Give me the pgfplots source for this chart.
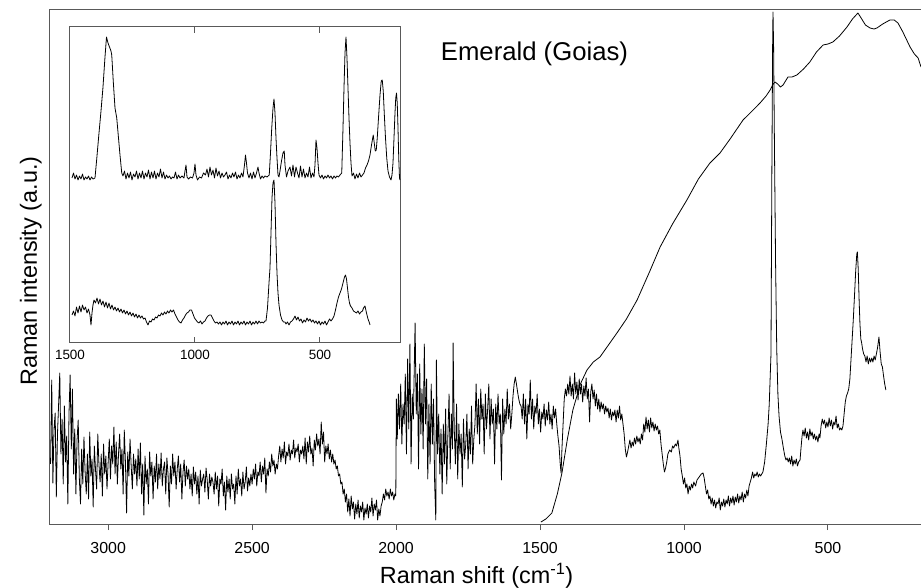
\documentclass[border=0pt]{standalone}
\usepackage{fontspec}
\setmainfont{Liberation Sans}
\usepackage{pgfplots}
\pgfplotsset{compat=1.18}
\definecolor{axgray}{gray}{0.35}
\pgfplotsset{spec/.style={black, line width=0.8bp, line join=round, mark=none}}
\begin{document}
\begin{tikzpicture}
\begin{axis}[
  at={(50bp,64bp)}, anchor=south west,
  scale only axis, width=871bp, height=514bp,
  xmin=177, xmax=3202, ymin=0, ymax=514,
  x dir=reverse,
  axis line style={axgray, line width=1bp},
  xtick={500,1000,1500,2000,2500,3000},
  ytick=\empty,
  tick align=outside,
  xtick pos=bottom,
  major tick length=6bp,
  every tick/.style={axgray, line width=1bp},
  xticklabel style={font=\fontsize{16}{19}\selectfont, anchor=base, yshift=-23.5bp, inner sep=0pt},
  xlabel={Raman shift (cm\textsuperscript{-1})},
  xlabel style={font=\fontsize{23.5}{28}\selectfont, at={(axis description cs:0.4897,-0.1155)}, anchor=base, inner sep=0pt},
  ylabel={Raman intensity (a.u.)},
  ylabel style={font=\fontsize{23.5}{28}\selectfont, at={(axis description cs:-0.0092,0.492)}, anchor=south, inner sep=0pt},
  /pgf/number format/1000 sep={},
  /pgf/number format/assume math mode=true,
]
% noisy spectrum (3200-300)
\addplot[spec] coordinates {
(3200,60)(3196,144)(3192,41)(3188,95)(3184,111)(3180,27)(3176,90)(3172,120)(3168,151)(3164,70)(3160,105)(3156,40)(3152,118)(3148,62)(3144,88)(3140,20)(3136,110)(3132,149)(3128,75)(3124,135)(3120,50)(3116,95)
(3112,30)(3108,84)(3104,104)(3100,45)(3096,20)
(3092,75)(3088,40)(3084,87)(3080,52)(3076,30)(3072,70)(3068,25)(3064,92)(3060,48)(3056,65)(3052,17)(3048,78)(3044,55)(3040,35)(3036,90)(3032,60)(3028,42)(3024,70)(3020,28)(3016,80)(3012,50)(3008,68)(3004,35)
(3000,62)(2996,85)(2992,45)(2988,78)(2984,60)(2980,97)(2976,50)(2972,82)(2968,40)(2964,70)(2960,90)(2956,55)(2952,75)(2948,30)(2944,94)(2940,62)(2936,11)(2932,72)(2928,48)(2924,85)(2920,58)(2916,35)(2912,70)(2908,50)
(2904,65)(2900,38)(2896,75)(2892,45)(2888,81)(2884,30)(2880,60)(2876,9)(2872,68)(2868,40)(2864,55)(2860,20)(2856,72)(2852,48)(2848,62)(2844,25)(2840,58)(2836,42)(2832,70)(2828,35)
(2824,60)(2820,45)(2816,71)(2812,38)(2808,55)(2804,62)(2800,30)(2796,66)(2792,50)(2788,17)(2784,58)(2780,40)(2776,70)(2772,48)(2768,62)(2764,35)(2760,55)(2756,68)(2752,42)(2748,60)(2744,25)(2740,52)(2736,64)(2732,38)(2728,58)(2724,45)
(2720,55)(2716,35)(2712,50)(2708,28)(2704,57)(2700,40)(2696,52)(2692,30)(2688,48)(2684,20)(2680,54)(2676,38)(2672,45)(2668,50)(2664,32)(2660,56)(2656,44)(2652,25)(2648,50)(2644,38)(2640,47)(2636,42)(2632,30)(2628,52)(2624,35)(2620,48)(2616,18)(2612,45)(2608,40)(2604,55)(2600,28)(2596,42)(2592,14)(2588,48)(2584,32)
(2580,45)(2576,25)(2572,50)(2568,35)(2564,40)(2560,20)(2556,48)(2552,30)(2548,55)(2544,38)(2540,45)(2536,28)(2532,52)(2528,35)(2524,42)(2520,57)(2516,33)(2512,46)(2508,38)(2504,50)
(2500,40)(2496,55)(2492,45)(2488,60)(2484,38)(2480,52)(2476,48)(2472,62)(2468,42)(2464,58)(2460,50)(2456,66)(2452,31)(2448,55)(2444,48)(2440,62)(2436,52)(2432,70)(2428,58)(2424,64)(2420,50)(2416,60)(2412,55)
(2408,68)(2404,78)(2400,62)(2396,75)(2392,66)(2388,82)(2384,60)(2380,72)(2376,68)(2372,80)(2368,64)(2364,74)(2360,70)(2356,84)(2352,66)(2348,76)(2344,72)(2340,80)(2336,62)(2332,74)(2328,70)
(2324,78)(2320,65)(2316,86)(2312,60)(2308,82)(2304,72)(2300,88)(2296,70)(2292,76)(2288,58)(2284,84)(2280,74)(2276,90)(2272,78)(2268,85)(2264,70)(2260,102)(2256,80)
(2252,92)(2248,62)(2244,78)(2240,70)(2236,80)(2232,65)(2228,74)(2224,62)(2220,70)(2216,60)
(2212,64)(2208,55)(2204,58)(2200,48)(2196,50)(2192,40)(2188,42)(2184,30)(2180,35)(2176,22)
(2172,30)(2168,12)(2164,25)(2160,8)(2156,28)(2152,15)(2148,22)(2144,5)(2140,20)(2136,10)(2132,24)(2128,6)(2124,18)(2120,12)(2116,22)(2112,4)(2108,16)(2104,10)(2100,20)(2096,6)(2092,18)(2088,12)(2084,26)(2080,8)(2076,20)(2072,14)(2068,24)(2064,4)(2060,15)(2056,8)(2052,18)
(2048,22)(2044,30)(2040,24)(2036,35)(2032,28)(2028,32)(2024,25)(2020,35)(2016,28)(2012,32)(2008,24)(2004,30)
(2001,28)(1999,125)
(1996,85)(1992,130)(1988,95)(1984,140)(1980,80)(1976,120)(1972,100)
(1968,150)(1964,70)(1960,165)(1956,95)(1952,180)(1948,60)(1944,130)(1940,105)(1936,170)(1934,201)(1930,110)(1926,150)(1922,55)(1918,160)(1914,90)(1910,135)(1906,75)(1902,180)(1898,100)(1894,145)(1890,45)
(1886,120)(1882,60)(1878,140)(1874,80)(1870,125)(1866,40)(1862,4)(1860,164)(1856,70)(1852,110)(1848,50)(1844,95)(1840,30)
(1836,100)(1832,60)(1828,115)(1824,40)(1820,90)(1816,130)(1812,55)(1808,110)(1804,75)(1802,181)(1798,95)(1794,60)(1790,120)(1786,45)(1782,100)(1778,70)(1774,90)(1770,37)(1766,105)(1762,65)(1758,80)(1754,110)(1750,55)(1746,95)(1742,70)(1738,118)(1734,60)(1730,85)
(1726,100)(1722,140)(1718,90)(1714,125)(1710,80)(1706,135)(1702,105)(1698,120)(1694,70)(1690,130)(1686,95)(1682,115)(1678,140)(1674,85)(1670,125)(1666,100)(1662,115)(1658,60)(1654,120)(1650,95)(1646,130)(1642,100)(1638,110)(1634,44)(1630,125)(1626,90)(1622,115)(1618,100)(1614,135)(1610,105)(1606,120)(1602,95)
(1598,110)(1594,128)(1590,140)(1586,147)(1582,140)(1578,132)(1574,125)(1570,120)(1566,118)
(1562,105)(1558,130)(1554,100)(1550,125)(1546,85)(1542,120)(1538,110)(1534,144)(1530,105)(1526,125)(1522,95)(1518,118)(1514,110)(1510,130)
(1506,100)(1502,115)(1498,92)(1494,112)(1490,105)(1486,120)(1482,98)(1478,114)(1474,104)(1470,122)(1466,100)(1462,110)(1458,95)(1454,118)(1450,106)(1446,115)(1442,100)(1438,88)
(1434,78)(1430,60)(1427,51)(1424,75)
(1420,100)(1416,125)(1412,135)(1408,128)(1404,140)
(1400,130)(1396,148)(1392,128)(1388,140)(1384,125)(1380,151)(1376,130)(1372,142)(1368,124)(1364,145)(1360,130)(1356,140)(1352,122)(1348,138)(1344,128)(1340,146)(1336,125)(1332,135)(1328,102)(1324,132)(1320,140)
(1316,125)(1312,134)(1308,118)(1304,130)(1300,115)(1296,125)(1292,112)(1288,122)(1284,115)(1280,120)(1276,110)(1272,118)(1268,112)(1264,116)(1260,106)(1256,115)(1252,104)(1248,112)(1244,108)(1240,114)(1236,102)(1232,114)(1228,106)(1224,118)(1220,104)(1216,110)(1212,100)
(1208,90)(1204,75)(1200,67)(1196,72)
(1192,78)(1188,84)(1184,76)(1180,82)(1176,78)(1172,86)(1168,80)(1164,88)(1160,82)(1156,86)(1152,80)(1148,90)(1144,84)
(1140,100)(1136,92)(1132,107)(1128,95)(1124,104)(1120,92)(1116,106)(1112,96)(1108,102)(1104,93)(1100,100)(1096,94)(1092,98)(1088,90)(1084,94)
(1080,80)(1076,70)(1072,60)(1068,52)(1064,56)
(1060,62)(1056,70)(1050,74)(1044,72)(1040,78)(1036,76)(1030,80)(1026,78)(1021,84)(1018,76)
(1014,68)(1010,55)(1006,48)(1002,40)(998,46)(994,36)(990,40)(986,30)(982,38)(978,34)
(974,40)(970,36)(966,42)(960,38)(955,44)(950,46)(945,48)(940,50)(934,51)
(930,46)(926,38)(922,30)(918,34)(914,25)(910,28)
(906,20)(902,26)(898,18)(894,24)(890,16)(886,22)(882,20)(878,26)(874,14)(870,22)(866,18)(862,25)(858,17)(854,24)(850,20)(846,28)(842,18)(838,26)(834,21)(830,28)(826,19)(822,27)(818,22)(814,30)(810,21)(806,28)(802,24)(798,32)(794,22)(790,30)(786,26)(782,34)(778,28)(774,38)
(770,42)(766,46)(762,52)(758,46)(754,50)(750,48)(746,52)(742,47)(738,50)(734,48)(730,50)(726,52)
(720,62)(714,80)(708,100)(704,120)(701,145)(698,170)(695,350)(692,490)(691,512)(689,480)(686,380)(682,260)(678,175)(674,130)(670,108)(665,92)(660,85)(655,76)(650,68)(646,64)(642,66)
(638,62)(634,66)(630,60)(626,68)(622,58)(618,64)(614,60)(610,65)(606,58)(602,62)(597,64)
(594,75)(590,88)(587,94)
(583,88)(579,96)(575,86)(571,92)(567,84)(563,95)(559,88)(555,92)(551,85)(547,90)(543,84)(539,88)(535,82)(531,90)(528,86)
(524,98)(520,105)(516,100)(512,104)(508,96)(504,102)(500,97)(496,106)(492,98)(488,104)(484,95)(480,102)(476,99)(472,108)(468,96)(464,100)(460,94)
(456,96)(452,94)(448,98)
(444,110)(440,122)(436,128)(432,131)(428,135)(424,145)(420,165)(416,185)(412,205)(408,228)(404,252)(400,270)(398,272)(395,255)(392,225)(389,200)(386,185)(383,181)(380,175)
(376,170)(372,168)(368,162)(364,168)(360,160)(356,166)(352,162)(348,166)(344,162)(340,168)(336,164)(332,170)
(328,176)(323,187)(319,172)(315,160)(311,157)(307,148)(303,140)(299,134)
};
% fluorescence background curve
\addplot[spec] coordinates {
(1497,2)(1480,5)(1459,11)(1440,30)(1424,51)(1405,85)(1386,114)(1360,140)(1337,154)(1315,162)(1292,167)(1260,180)(1233,191)(1200,205)(1163,224)(1120,252)(1083,277)(1040,300)(990,324)(950,345)(910,361)(875,371)(840,385)(795,404)(760,414)(736,421)(715,428)(701,434)(690,440)(684,442)(675,440)(665,437)(656,439)(639,447)(625,447)(608,449)(585,455)(563,462)(540,472)(517,479)(500,480)(483,482)(460,488)(434,497)(415,505)(396,511)(385,506)(370,499)(354,496)(340,495)(330,496)(310,500)(285,504)(270,504)(257,501)(240,492)(225,483)(215,477)(200,470)(187,466)(177,457)
};
\node[anchor=base west, font=\fontsize{25.8}{30}\selectfont, inner sep=0pt] at (rel axis cs:0.4486,0.9008) {Emerald (Goias)};
\end{axis}
% inset
\begin{axis}[
  at={(70bp,245bp)}, anchor=south west,
  scale only axis, width=331bp, height=316bp,
  xmin=176, xmax=1500, ymin=0, ymax=316,
  x dir=reverse,
  axis background/.style={fill=white},
  axis line style={axgray, line width=1bp},
  xtick={500,1000,1500},
  ytick=\empty,
  tick align=inside,
  xtick pos=both,
  major tick length=6bp,
  every tick/.style={axgray, line width=1bp},
  xticklabel style={font=\fontsize{13.5}{16}\selectfont, anchor=base, yshift=-17bp, inner sep=0pt},
  /pgf/number format/1000 sep={},
  /pgf/number format/assume math mode=true,
]
\addplot[spec] coordinates {
(1492,165)(1486,170)(1480,164)(1474,168)(1468,163)(1462,167)(1456,164)(1450,169)(1444,163)(1438,166)(1432,164)(1426,167)(1420,163)(1414,166)(1408,164)
(1400,165)(1392,187)(1384,210)(1376,232)(1368,256)(1360,286)(1354,306)(1348,300)(1342,296)(1336,292)(1333,288)(1327,262)(1320,235)(1313,225)(1306,205)(1300,188)(1293,170)(1288,167)
(1282,172)(1276,164)(1270,170)(1264,165)(1258,171)(1252,163)(1246,169)(1240,166)(1234,172)(1228,164)(1222,170)(1216,165)(1210,172)(1204,164)(1198,170)(1192,166)(1186,173)(1180,164)(1174,171)(1168,165)(1162,172)(1156,164)(1150,170)(1144,166)(1138,174)(1132,165)(1126,171)(1120,164)(1114,168)(1108,165)(1102,167)(1096,164)(1090,166)(1084,165)(1078,171)(1072,164)(1066,168)(1060,165)(1052,167)(1044,165)(1040,172)(1036,178)(1032,166)(1026,164)(1018,166)(1010,165)(1004,170)(1000,179)(996,168)(990,163)(982,166)(974,165)(966,170)(958,168)(952,174)(946,166)(940,176)(934,168)(928,173)(922,165)(916,175)(910,167)(904,172)(898,165)(892,170)(886,166)(880,168)(874,171)(868,164)(862,168)(856,165)(850,170)(844,166)
(838,171)(832,164)(826,168)(820,165)(814,170)(808,166)(802,178)(798,188)(794,180)(790,170)(784,165)(778,170)(772,164)(766,171)(760,165)(754,170)(748,176)(744,170)(738,164)(732,167)(726,165)(720,167)(712,166)
(703,168)(698,190)(693,215)(688,235)(684,244)(680,230)(676,205)(672,185)(668,168)(664,166)(660,172)(654,182)(648,190)(643,192)(640,178)(634,166)(628,172)(620,176)(614,167)(608,178)(602,166)(596,176)(590,170)(584,165)(578,177)(572,166)(566,174)(560,165)(554,170)(548,166)(542,176)(536,165)(530,170)(524,166)(520,178)(516,203)(512,195)(508,180)(504,168)(498,165)(492,168)(486,164)(480,167)(474,165)(468,168)(462,165)(456,167)(450,164)(444,167)(438,165)(432,167)(426,166)(420,168)
(413,170)(408,215)(404,255)(400,290)(396,306)(392,285)(388,255)(384,225)(380,200)(376,180)(372,167)(366,170)(360,164)(354,169)(348,165)(342,170)(336,166)(330,168)(324,170)(318,175)(312,178)(306,182)(300,188)(294,198)(287,208)(283,200)(279,192)(275,193)(271,205)(266,225)(260,248)(255,262)(251,263)(247,252)(243,230)(238,205)(233,185)(228,172)(222,166)(216,163)(212,168)(208,180)(204,205)(200,230)(197,245)(194,250)(191,240)(188,215)(185,185)(182,165)(180,163)
};
\addplot[spec] coordinates {
(1492,28)(1486,32)(1480,27)(1474,36)(1468,30)(1462,37)(1456,31)(1450,38)(1444,33)(1438,36)(1432,30)(1426,34)(1420,28)(1416,18)(1412,30)(1408,38)(1404,43)(1398,40)(1392,45)(1386,39)(1380,44)(1374,38)(1368,42)(1362,36)(1356,41)(1350,35)(1344,40)(1338,34)(1332,38)(1326,33)(1320,36)(1314,32)(1308,35)(1302,31)(1296,34)(1290,30)(1284,33)(1278,29)(1272,32)(1266,28)(1260,31)(1254,27)(1248,30)(1242,26)(1236,29)(1230,25)(1224,28)(1218,25)(1212,27)(1206,24)(1200,25)(1194,21)(1188,18)(1182,22)(1176,21)(1170,24)(1164,23)(1158,26)(1152,25)(1146,28)(1140,27)(1134,30)(1128,28)(1122,31)(1116,29)(1110,32)(1104,30)(1098,33)(1092,31)(1086,33)(1080,29)(1074,26)(1068,23)(1062,21)(1056,20)(1050,23)(1044,25)(1038,28)(1032,30)(1026,31)(1020,33)(1014,33)(1008,29)(1002,25)(996,23)(990,21)(984,20)(978,22)(972,19)(966,21)(960,22)(954,25)(948,27)(942,28)(936,28)(930,25)(924,22)(918,20)(912,21)(906,19)(900,21)(894,18)(888,21)(882,19)(876,22)(870,18)(864,21)(858,19)(852,22)(846,18)(840,21)(834,19)(828,22)(822,18)(816,21)(810,19)(804,22)(798,18)(792,21)(786,19)(780,22)(774,18)(768,21)(762,19)(756,22)(750,19)(744,22)(738,20)(732,21)(726,20)(720,22)
(716,22)(710,35)(704,60)(700,75)(696,110)(692,145)(688,160)(684,163)(680,140)(676,100)(672,70)(668,50)(664,38)(658,28)(652,23)(646,21)(640,21)(636,19)(630,21)(624,18)(618,21)(612,22)(606,24)(600,27)(594,23)(588,26)(582,22)(576,24)(570,20)(564,23)(558,21)(552,25)(546,22)(540,24)(534,21)(528,23)(522,20)(516,22)(510,19)(504,22)(498,18)(492,21)(486,19)(480,22)(474,18)(468,21)(462,24)
(456,22)(450,24)(444,27)(438,33)(432,40)(426,46)(420,50)(414,54)(408,60)(402,66)(398,68)(394,64)(390,55)(386,46)(382,40)(378,37)(372,35)(366,32)(360,31)(354,30)(348,32)(342,29)(336,31)(330,32)(326,35)(320,37)(314,30)(308,24)(302,20)(300,18)
};
\end{axis}
\pgfresetboundingbox
\path (0,0) rectangle (921bp,588bp);
\end{tikzpicture}
\end{document}
